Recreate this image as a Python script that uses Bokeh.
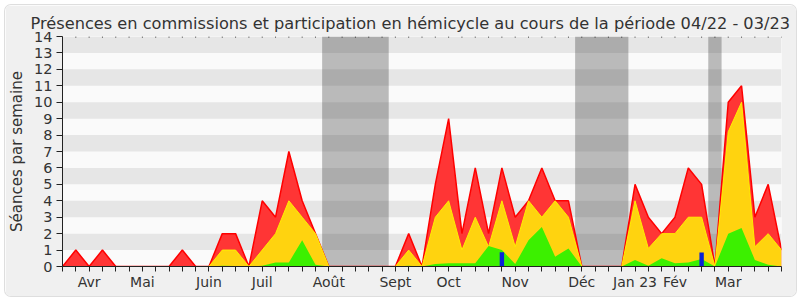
from bokeh.plotting import figure
from bokeh.models import (Range1d, FixedTicker, BoxAnnotation, Spacer)
from bokeh.layouts import column, row
from bokeh.embed import file_html
from bokeh.resources import INLINE

# ---- data (weekly, index 0 .. 54) ----
weeks = list(range(55))
presences = [0, 1, 0, 1, 0, 0, 0, 0, 0, 1, 0, 0, 2, 2, 0, 4, 3, 7, 4, 2,
             0, 0, 0, 0, 0, 0, 2, 0, 5, 9, 2, 6, 2, 6, 3, 4, 6, 4, 4, 0,
             0, 0, 0, 5, 3, 2, 3, 6, 5, 0, 10, 11, 3, 5, 1]
hemicycle = [0, 0, 0, 0, 0, 0, 0, 0, 0, 0, 0, 0, 1, 1, 0, 1, 2, 4, 3, 2,
             0, 0, 0, 0, 0, 0, 1, 0, 3, 4, 1, 3, 1.2, 4, 1.2, 4, 3, 4, 3, 0,
             0, 0, 0, 4, 1.1, 2, 2, 3, 3, 0, 8.2, 10, 1.2, 2, 1]
interventions = [0, 0, 0, 0, 0, 0, 0, 0, 0, 0, 0, 0, 0.05, 0.03, 0, 0.05, 0.25, 0.25, 1.6, 0.1,
                 0, 0, 0, 0, 0, 0, 0.05, 0, 0.15, 0.2, 0.2, 0.2, 1.25, 1.0, 0.15, 1.6, 2.4, 0.6, 1.1, 0,
                 0, 0, 0, 0.4, 0.05, 0.5, 0.2, 0.25, 0.45, 0, 2.0, 2.35, 0.4, 0.1, 0]
questions_weeks = [33, 48]
questions = [0.87, 0.85]
vacances = [(19.5, 24.5), (38.5, 42.5), (48.5, 49.5)]
month_ticks = [2, 6, 11, 15, 20, 25, 29, 34, 39, 43, 46, 50]
month_labels = ["Avr", "Mai", "Juin", "Juil", "Août", "Sept", "Oct", "Nov",
                "Déc", "Jan 23", "Fév", "Mar"]

FONT = "DejaVu Sans"
TXT = "#333333"

p = figure(output_backend="svg", toolbar_location=None,
           frame_width=719, frame_height=230,
           x_range=Range1d(0, 54), y_range=Range1d(0, 14),
           min_border_left=57, min_border_right=15,
           min_border_top=31, min_border_bottom=30,
           background_fill_color="#fafafa", border_fill_color="#f0f0f0",
           outline_line_color=None,
           title="Présences en commissions et participation en hémicycle au cours de la période 04/22 - 03/23")
p.styles = {"border-radius": "6px", "overflow": "hidden",
            "box-shadow": "0 0 0 1px #dedede"}
p.title.align = "left"
p.title.offset = -32
p.title.text_font = FONT
p.title.text_font_size = "16.2px"
p.title.text_font_style = "normal"
p.title.text_color = TXT
p.title.standoff = 8
p.grid.visible = False

# horizontal stripes
for k in range(1, 14, 2):
    p.add_layout(BoxAnnotation(bottom=k, top=k + 1, fill_color="#e6e6e6",
                               fill_alpha=1, line_color=None, level="underlay"))
# holidays
for a, b in vacances:
    p.add_layout(BoxAnnotation(left=a, right=b, fill_color="#282828",
                               fill_alpha=0.3, line_color=None, level="underlay"))

p.varea(x=weeks, y1=0, y2=presences, fill_color="#ff3535")
p.line(weeks, presences, line_color="#ff0000", line_width=1.5)
p.varea(x=weeks, y1=0, y2=hemicycle, fill_color="#ffd30f")
p.line(weeks, hemicycle, line_color="#ffee00", line_width=1)
p.varea(x=weeks, y1=0, y2=interventions, fill_color="#3cf000")
p.vbar(x=questions_weeks, top=questions, width=0.33, fill_color="#0a22d8", line_color=None)

# top dotted marks
p.segment(x0=weeks, y0=[14] * len(weeks), x1=weeks, y1=[13.94] * len(weeks),
          line_color="#000000", line_width=1)

# axes
p.yaxis.ticker = FixedTicker(ticks=list(range(15)))
p.yaxis.axis_label = "Séances par semaine"
p.yaxis.axis_label_text_font = FONT
p.yaxis.axis_label_text_font_size = "15px"
p.yaxis.axis_label_text_font_style = "normal"
p.yaxis.axis_label_text_color = TXT
p.yaxis.axis_label_standoff = 5
p.yaxis.major_label_text_font = FONT
p.yaxis.major_label_text_font_size = "14.5px"
p.yaxis.major_label_text_color = TXT
p.yaxis.major_label_standoff = 4
p.yaxis.major_tick_out = 6
p.yaxis.major_tick_in = 0
p.yaxis.minor_tick_out = 0
p.yaxis.minor_tick_in = 0
p.yaxis.axis_line_color = "#222222"
p.yaxis.major_tick_line_color = "#222222"

p.xaxis.ticker = FixedTicker(ticks=weeks)
overrides = {w: "" for w in weeks}
for w, lab in zip(month_ticks, month_labels):
    overrides[w] = lab
p.xaxis.major_label_overrides = overrides
p.xaxis.major_label_text_font = FONT
p.xaxis.major_label_text_font_size = "14px"
p.xaxis.major_label_text_color = TXT
p.xaxis.major_label_standoff = 2
p.xaxis.major_tick_out = 5
p.xaxis.major_tick_in = 0
p.xaxis.minor_tick_out = 0
p.xaxis.minor_tick_in = 0
p.xaxis.axis_line_color = "#222222"
p.xaxis.major_tick_line_color = "#222222"

layout = column(Spacer(height=5), row(Spacer(width=5), p))
open("out.html", "w").write(file_html(layout, INLINE))
